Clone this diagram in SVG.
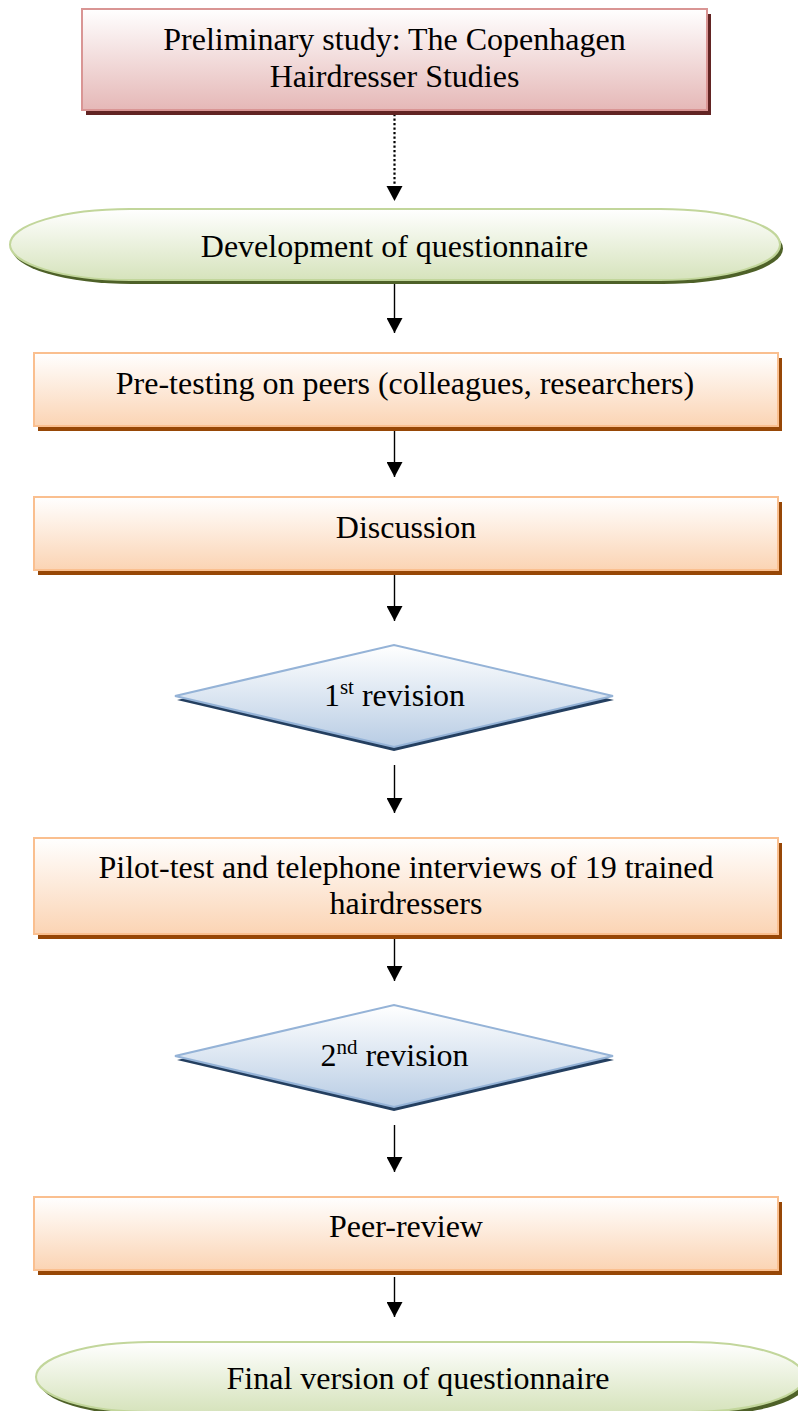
<svg xmlns="http://www.w3.org/2000/svg" width="798" height="1411" viewBox="0 0 798 1411">
<defs>
<linearGradient id="gPink" x1="0" y1="0" x2="0" y2="1"><stop offset="0" stop-color="#ffffff"/><stop offset="1" stop-color="#e5b8b7"/></linearGradient>
<linearGradient id="gOrange" x1="0" y1="0" x2="0" y2="1"><stop offset="0" stop-color="#ffffff"/><stop offset="1" stop-color="#fbd4b4"/></linearGradient>
<linearGradient id="gGreen" x1="0" y1="0" x2="0" y2="1"><stop offset="0" stop-color="#ffffff"/><stop offset="1" stop-color="#d6e3bc"/></linearGradient>
<linearGradient id="gBlue" x1="0" y1="0" x2="0" y2="1"><stop offset="0" stop-color="#ffffff"/><stop offset="1" stop-color="#b8cce4"/></linearGradient>
<marker id="arr" markerUnits="userSpaceOnUse" markerWidth="16" markerHeight="16" viewBox="0 0 16 16" refX="15" refY="8" orient="auto">
<path d="M0,0 L15,8 L0,16 Z" fill="#000"/>
</marker>
</defs>
<style>
text{font-family:"Liberation Serif","Times New Roman",serif;font-size:32px;fill:#000;text-anchor:middle}
.pink{fill:url(#gPink);stroke:#d99594;stroke-width:2}
.pinkS{fill:#622423}
.orange{fill:url(#gOrange);stroke:#fabf8f;stroke-width:2}
.orangeS{fill:#974706}
.green{fill:url(#gGreen);stroke:#c2d69b;stroke-width:2}
.greenS{fill:#4e6128}
.blue{fill:url(#gBlue);stroke:#95b3d7;stroke-width:2}
.blueS{fill:#243f60}
.conn{stroke:#000;stroke-width:1.4;fill:none}
.dot{stroke:#000;stroke-width:2.2;stroke-dasharray:2.2 2.3;fill:none}
.sup{font-size:21px}
</style>

<g id="connectors">
<line class="dot" x1="394.5" y1="105" x2="394.5" y2="186"/>
<path d="M386.5,186 L402.5,186 L394.5,201 Z" fill="#000"/>
<line class="conn" x1="394.5" y1="284" x2="394.5" y2="333" marker-end="url(#arr)"/>
<line class="conn" x1="394.5" y1="430" x2="394.5" y2="477" marker-end="url(#arr)"/>
<line class="conn" x1="394.5" y1="573" x2="394.5" y2="621" marker-end="url(#arr)"/>
<line class="conn" x1="394.5" y1="765" x2="394.5" y2="813" marker-end="url(#arr)"/>
<line class="conn" x1="394.5" y1="933" x2="394.5" y2="981" marker-end="url(#arr)"/>
<line class="conn" x1="394.5" y1="1125" x2="394.5" y2="1172" marker-end="url(#arr)"/>
<line class="conn" x1="394.5" y1="1277" x2="394.5" y2="1317" marker-end="url(#arr)"/>
</g>

<g id="n1">
<rect class="pinkS" x="86" y="14" width="625" height="101"/>
<rect class="pink" x="82" y="9" width="625" height="101"/>
<text x="394.5" y="50">Preliminary study: The Copenhagen</text>
<text x="394.5" y="87">Hairdresser Studies</text>
</g>

<g id="n2">
<path class="greenS" d="M132,213 L663,213 A120,35.5 0 0 1 663,284 L132,284 A120,35.5 0 0 1 132,213 Z"/>
<path class="green" d="M130,209 L660,209 A120,35.5 0 0 1 660,280 L130,280 A120,35.5 0 0 1 130,209 Z"/>
<text x="394.5" y="257">Development of questionnaire</text>
</g>

<g id="n3">
<rect class="orangeS" x="38" y="358" width="744" height="73"/>
<rect class="orange" x="34" y="353" width="744" height="73"/>
<text x="405" y="394">Pre-testing on peers (colleagues, researchers)</text>
</g>

<g id="n4">
<rect class="orangeS" x="38" y="502" width="744" height="73"/>
<rect class="orange" x="34" y="497" width="744" height="73"/>
<text x="406" y="538">Discussion</text>
</g>

<g id="n5">
<polygon class="blueS" points="177,700 394,649 614,700 394,751"/>
<polygon class="blue" points="175,696 394,645 613,696 394,747"/>
<text x="394.5" y="706">1<tspan class="sup" dy="-12">st</tspan><tspan dy="12"> revision</tspan></text>
</g>

<g id="n6">
<rect class="orangeS" x="38" y="843" width="744" height="96"/>
<rect class="orange" x="34" y="838" width="744" height="96"/>
<text x="406" y="878">Pilot-test and telephone interviews of 19 trained</text>
<text x="406" y="914">hairdressers</text>
</g>

<g id="n7">
<polygon class="blueS" points="177,1060 394,1009 614,1060 394,1111"/>
<polygon class="blue" points="175,1056 394,1005 613,1056 394,1107"/>
<text x="394.5" y="1066">2<tspan class="sup" dy="-12">nd</tspan><tspan dy="12"> revision</tspan></text>
</g>

<g id="n8">
<rect class="orangeS" x="38" y="1202" width="744" height="73"/>
<rect class="orange" x="34" y="1197" width="744" height="73"/>
<text x="406" y="1237">Peer-review</text>
</g>

<g id="n9">
<path class="greenS" d="M153,1346 L694,1346 A114,35 0 0 1 694,1416 L153,1416 A114,35 0 0 1 153,1346 Z"/>
<path class="green" d="M150,1342 L690,1342 A114,35 0 0 1 690,1412 L150,1412 A114,35 0 0 1 150,1342 Z"/>
<text x="418" y="1389">Final version of questionnaire</text>
</g>
</svg>
